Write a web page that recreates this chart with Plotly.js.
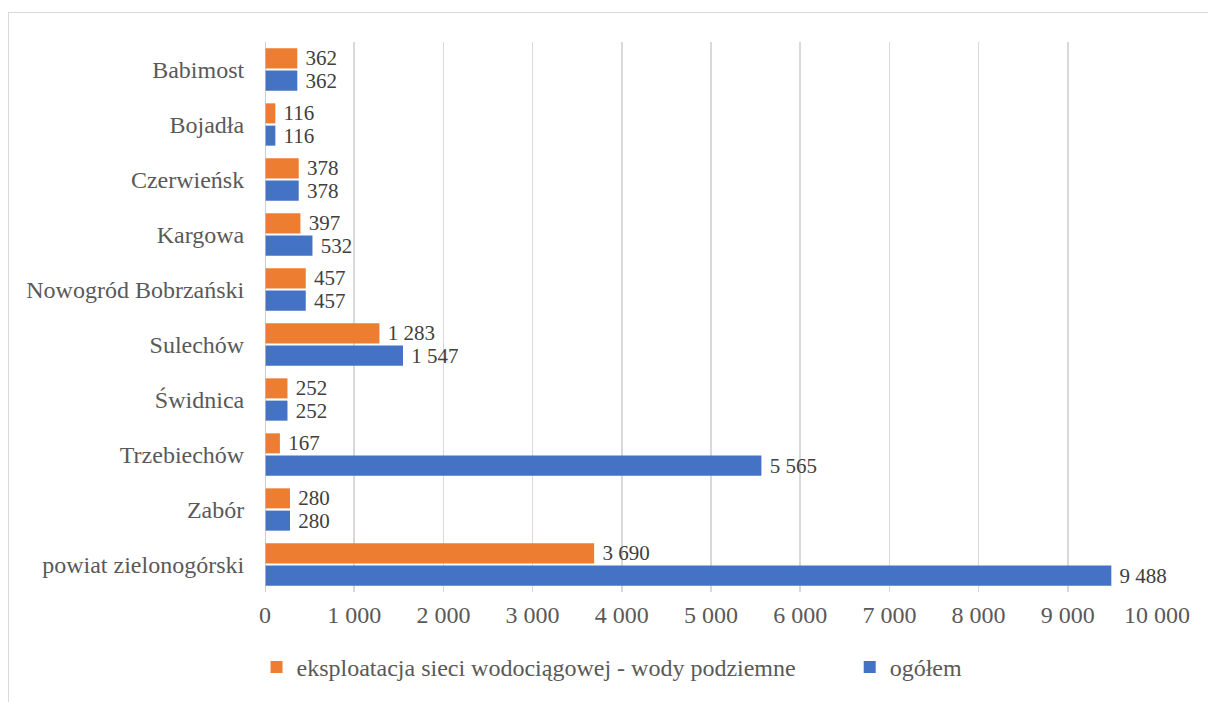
<!DOCTYPE html>
<html>
<head>
<meta charset="utf-8">
<script src="https://cdn.plot.ly/plotly-3.0.1.min.js"></script>
<style>
html,body{margin:0;padding:0;background:#fff;}
#wrap{position:relative;width:1208px;height:702px;overflow:hidden;}
#chart{position:absolute;left:0;top:0;width:1208px;height:702px;}
#frame{position:absolute;left:8px;top:12px;width:1300px;height:800px;border:1px solid #d9d9d9;pointer-events:none;}
</style>
</head>
<body>
<div id="wrap">
<div id="chart"></div>
<div id="frame"></div>
</div>
<script>
const categories = ["Babimost","Bojadła","Czerwieńsk","Kargowa","Nowogród Bobrzański","Sulechów","Świdnica","Trzebiechów","Zabór","powiat zielonogórski"];
const seriesNames = ["eksploatacja sieci wodociągowej - wody podziemne","ogółem"];
const podziemne = [362,116,378,397,457,1283,252,167,280,3690];
const ogolem = [362,116,378,532,457,1547,252,5565,280,9488];
const xTicks = [0,1000,2000,3000,4000,5000,6000,7000,8000,9000,10000];

const font = "Liberation Serif";
const fs = 24;
const vfs = 21;
const traces = [
  {type:'bar', orientation:'h', name:seriesNames[0], y:categories, x:podziemne, legend:'legend',
   marker:{color:'#ED7D31'}, texttemplate:' %{x:,}', textposition:'outside', constraintext:'none',
   textfont:{family:font,size:vfs,color:'#404040'}, cliponaxis:false, hoverinfo:'x+y'},
  {type:'bar', orientation:'h', name:seriesNames[1], y:categories, x:ogolem, legend:'legend2',
   marker:{color:'#4472C4'}, texttemplate:' %{x:,}', textposition:'outside', constraintext:'none',
   textfont:{family:font,size:vfs,color:'#404040'}, cliponaxis:false, hoverinfo:'x+y'}
];
const legendBase = {orientation:'h', y:-0.137, yanchor:'middle', xanchor:'left',
  font:{family:font,size:fs,color:'#595959'}, itemwidth:30, bgcolor:'rgba(0,0,0,0)'};
const layout = {
  width:1208, height:702,
  margin:{l:265, r:51, t:42, b:110, pad:0},
  paper_bgcolor:'rgba(0,0,0,0)', plot_bgcolor:'rgba(0,0,0,0)',
  separators:'. ',
  font:{family:font, size:fs, color:'#595959'},
  barmode:'group', bargap:0.19, bargroupgap:0.1,
  showlegend:true,
  xaxis:{range:[0,10000], tickvals:xTicks, tickformat:',d', showgrid:true, gridcolor:'#d9d9d9', gridwidth:1.5,
         zeroline:false, showline:false, ticks:'outside', ticklen:1, tickcolor:'rgba(0,0,0,0)',
         tickfont:{family:font,size:fs,color:'#595959'}, fixedrange:true},
  yaxis:{autorange:'reversed', type:'category', showgrid:false, zeroline:false,
         ticks:'outside', ticklen:15, tickcolor:'rgba(0,0,0,0)',
         tickfont:{family:font,size:fs,color:'#595959'}, fixedrange:true},
  shapes:[{type:'line', xref:'x', yref:'paper', x0:0, x1:0, y0:0, y1:1, line:{color:'#bfbfbf', width:1.5}}],
  legend:Object.assign({}, legendBase, {x:-0.0095}),
  legend2:Object.assign({}, legendBase, {x:0.6555})
};
Plotly.newPlot('chart', traces, layout, {displayModeBar:false, staticPlot:true});
</script>
</body>
</html>
